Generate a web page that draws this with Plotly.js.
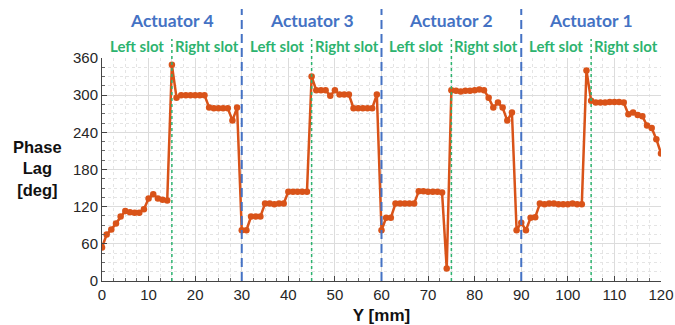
<!DOCTYPE html>
<html>
<head>
<meta charset="utf-8">
<script src="https://cdn.plot.ly/plotly-3.0.1.min.js"></script>
<style>
  html, body { margin: 0; padding: 0; background: #fff; }
  #chart { width: 675px; height: 325px; }
</style>
</head>
<body>
<div id="chart"></div>
<script>
// Position along the slot, mm
const positionMm = [
  0, 1, 2, 3, 4, 5, 6, 7, 8, 9,
  10, 11, 12, 13, 14, 15, 16, 17, 18, 19,
  20, 21, 22, 23, 24, 25, 26, 27, 28, 29,
  30, 31, 32, 33, 34, 35, 36, 37, 38, 39,
  40, 41, 42, 43, 44, 45, 46, 47, 48, 49,
  50, 51, 52, 53, 54, 55, 56, 57, 58, 59,
  60, 61, 62, 63, 64, 65, 66, 67, 68, 69,
  70, 71, 72, 73, 74, 75, 76, 77, 78, 79,
  80, 81, 82, 83, 84, 85, 86, 87, 88, 89,
  90, 91, 92, 93, 94, 95, 96, 97, 98, 99,
  100, 101, 102, 103, 104, 105, 106, 107, 108, 109,
  110, 111, 112, 113, 114, 115, 116, 117, 118, 119,
  120
];

// Measured phase lag, degrees
const phaseLagDeg = [
  54, 75, 83, 93, 104, 113, 111, 110, 110, 116,
  133, 140, 133, 131, 130, 349, 296, 300, 300, 300,
  300, 300, 300, 280, 279, 279, 279, 279, 259, 280,
  82, 82, 104, 104, 104, 125, 125, 124, 125, 125,
  144, 144, 144, 144, 144, 330, 308, 308, 308, 299,
  308, 301, 301, 301, 279, 279, 279, 279, 279, 301,
  82, 102, 102, 125, 125, 125, 125, 125, 145, 145,
  144, 144, 144, 143, 20, 308, 307, 306, 307, 307,
  308, 309, 308, 296, 280, 288, 280, 259, 272, 82,
  94, 82, 102, 103, 125, 124, 125, 125, 124, 124,
  124, 125, 124, 124, 340, 291, 288, 288, 288, 289,
  289, 289, 288, 269, 272, 268, 266, 251, 247, 229,
  206
];

// Actuator boundaries and their labels
const actuatorNames = ['Actuator 4', 'Actuator 3', 'Actuator 2', 'Actuator 1'];
const actuatorCenters = [15, 45, 75, 105];
const actuatorBounds = [30, 60, 90];

// Slot split inside each actuator
const slotNames = ['Left slot', 'Right slot', 'Left slot', 'Right slot',
                   'Left slot', 'Right slot', 'Left slot', 'Right slot'];
const slotCenters = [7.5, 22.5, 37.5, 52.5, 67.5, 82.5, 97.5, 112.5];
const slotBounds = [15, 45, 75, 105];

const xTicks = [0, 10, 20, 30, 40, 50, 60, 70, 80, 90, 100, 110, 120];
const yTicks = [0, 60, 120, 180, 240, 300, 360];

const blue = '#4472C4';
const green = '#2DB36F';
const orange = '#D95319';

const shapes = [];
actuatorBounds.forEach(function (x) {
  shapes.push({
    type: 'line', xref: 'x', yref: 'paper',
    x0: x, x1: x, y0: 0, y1: 1.22,
    line: { color: blue, width: 2, dash: '9px,5px' }
  });
});
slotBounds.forEach(function (x) {
  shapes.push({
    type: 'line', xref: 'x', yref: 'paper',
    x0: x, x1: x, y0: 0, y1: 1.085,
    line: { color: green, width: 1.5, dash: 'dot' }
  });
});

const annotations = [];
actuatorNames.forEach(function (name, i) {
  annotations.push({
    text: '<b>' + name + '</b>', x: actuatorCenters[i], y: 1.17,
    xref: 'x', yref: 'paper', showarrow: false,
    xanchor: 'center', yanchor: 'middle',
    font: { family: 'Lato, "Open Sans", sans-serif', size: 17.5, color: blue }
  });
});
slotNames.forEach(function (name, i) {
  annotations.push({
    text: '<b>' + name + '</b>', x: slotCenters[i], y: 1.054,
    xref: 'x', yref: 'paper', showarrow: false,
    xanchor: 'center', yanchor: 'middle',
    font: { family: 'Lato, "Open Sans", sans-serif', size: 15, color: green }
  });
});
annotations.push({
  text: '<b>Phase<br>Lag<br>[deg]</b>', x: -0.115, y: 0.505,
  xref: 'paper', yref: 'paper', showarrow: false,
  xanchor: 'center', yanchor: 'middle', align: 'center',
  font: { family: '"Liberation Sans", Arial, sans-serif', size: 16.5, color: '#111' }
});

const trace = {
  x: positionMm,
  y: phaseLagDeg,
  type: 'scatter',
  mode: 'lines+markers',
  line: { color: orange, width: 2.5 },
  marker: { color: orange, size: 6.5, symbol: 'circle' },
  hoverinfo: 'skip'
};

const tickFont = { family: '"Liberation Sans", Arial, sans-serif', size: 15, color: '#262626' };

const layout = {
  width: 675,
  height: 325,
  margin: { l: 102, r: 14, t: 58, b: 44 },
  paper_bgcolor: '#ffffff',
  plot_bgcolor: '#ffffff',
  showlegend: false,
  xaxis: {
    range: [0, 120],
    tickvals: xTicks,
    ticktext: xTicks.map(String),
    ticks: 'inside', ticklen: 5, tickcolor: '#444',
    showline: true, linecolor: '#444', linewidth: 1,
    showgrid: true, gridcolor: '#dcdcdc', gridwidth: 1,
    zeroline: false,
    tickfont: tickFont,
    minor: { dtick: 2.5, showgrid: true, gridcolor: '#e4e4e4', griddash: 'dot',
             ticks: 'inside', ticklen: 3, tickcolor: '#666' },
    title: { text: '<b>Y [mm]</b>', standoff: 9,
             font: { family: '"Liberation Sans", Arial, sans-serif', size: 17, color: '#111' } }
  },
  yaxis: {
    range: [0, 360],
    tickvals: yTicks,
    ticktext: yTicks.map(String),
    ticks: 'inside', ticklen: 5, tickcolor: '#444',
    showline: true, linecolor: '#444', linewidth: 1,
    showgrid: true, gridcolor: '#dcdcdc', gridwidth: 1,
    zeroline: false,
    tickfont: tickFont,
    minor: { dtick: 15, showgrid: true, gridcolor: '#e4e4e4', griddash: 'dot',
             ticks: 'inside', ticklen: 3, tickcolor: '#666' }
  },
  shapes: shapes,
  annotations: annotations
};

Plotly.newPlot('chart', [trace], layout, { staticPlot: true, displayModeBar: false });
</script>
</body>
</html>
